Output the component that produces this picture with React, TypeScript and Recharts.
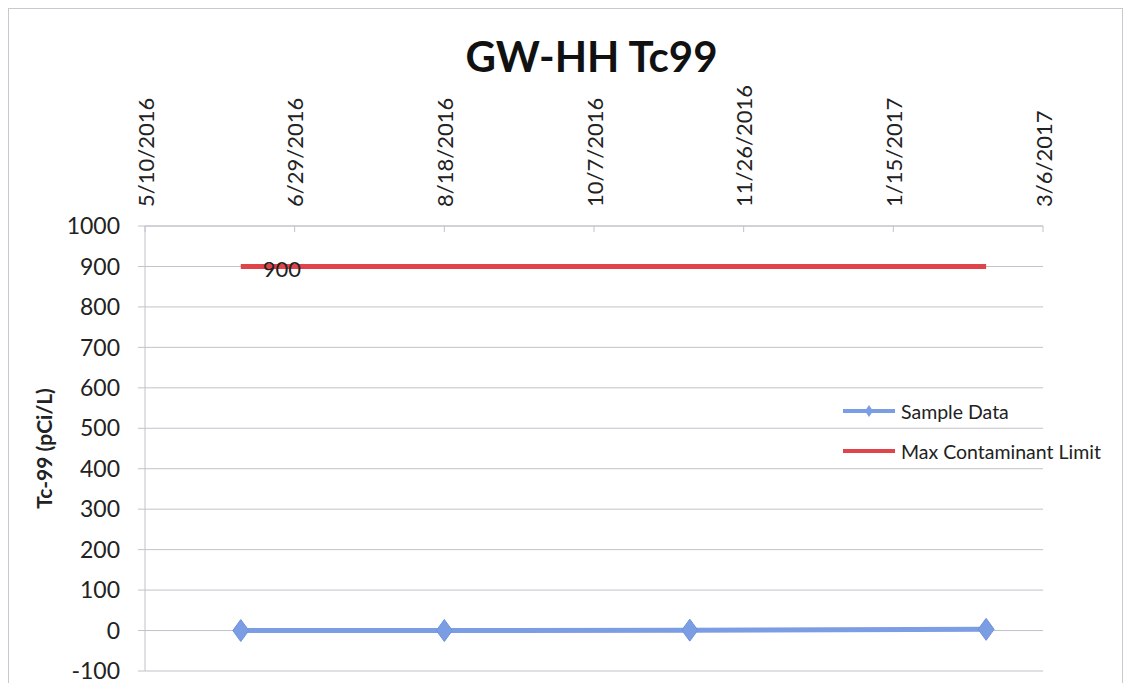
import { LineChart, Line, XAxis, YAxis, CartesianGrid } from 'recharts';

const sampleDates = ['6/11/2016', '8/18/2016', '11/8/2016', '2/15/2017'];
const sampleValues = [0, 0, 1, 3];
const limitValues = [900, 900, 900, 900];
const dateTicks = ['5/10/2016', '6/29/2016', '8/18/2016', '10/7/2016', '11/26/2016', '1/15/2017', '3/6/2017'];
const valueTicks = [-100, 0, 100, 200, 300, 400, 500, 600, 700, 800, 900, 1000];

const FONT = 'Lato, "Open Sans", sans-serif';
const BLUE = '#7b9de3';
const RED = '#e0434a';
const GRID = '#c2c2ca';

const toTime = (s: string) => {
  const [m, d, y] = s.split('/').map(Number);
  return Date.UTC(y, m - 1, d);
};
const fmtDate = (t: number) => {
  const d = new Date(t);
  return `${d.getUTCMonth() + 1}/${d.getUTCDate()}/${d.getUTCFullYear()}`;
};

const data = sampleDates.map((d, i) => ({
  t: toTime(d),
  sample: sampleValues[i],
  limit: limitValues[i],
}));
const xTicks = dateTicks.map(toTime);

const DateTick = (props: any) => {
  const { x, y, payload } = props;
  const ty = y - 19;
  return (
    <g>
      <line x1={x} y1={y} x2={x} y2={y + 6} stroke={GRID} />
      <text
        x={x}
        y={ty}
        transform={`rotate(-90, ${x}, ${ty})`}
        textAnchor="start"
        dominantBaseline="central"
        fontSize={22}
        fontFamily={FONT}
        fill="#222"
      >
        {fmtDate(payload.value)}
      </text>
    </g>
  );
};

const Diamond = (props: any) => {
  const { cx, cy } = props;
  if (cx == null || cy == null) return null;
  return (
    <polygon
      points={`${cx},${cy - 11} ${cx + 8},${cy} ${cx},${cy + 11} ${cx - 8},${cy}`}
      fill={BLUE}
      stroke="#6f92dc"
      strokeWidth={1}
    />
  );
};

const FirstLabel = (props: any) => {
  const { x, y, index, value } = props;
  if (index !== 0) return null;
  return (
    <text x={x + 22} y={y + 2} dominantBaseline="central" fontSize={22} fontFamily={FONT} fill="#222">
      {value}
    </text>
  );
};

const LegendBox = () => (
  <div
    style={{
      position: 'absolute',
      left: 832,
      top: 382,
      fontFamily: FONT,
      fontSize: 19.5,
      color: '#222',
    }}
  >
    <div style={{ display: 'flex', alignItems: 'center', height: 40 }}>
      <svg width={56} height={14} style={{ marginRight: 4 }}>
        <line x1={2} y1={7} x2={54} y2={7} stroke={BLUE} strokeWidth={4} />
        <polygon points="28,1 32,7 28,13 24,7" fill={BLUE} />
      </svg>
      <span>Sample Data</span>
    </div>
    <div style={{ display: 'flex', alignItems: 'center', height: 40 }}>
      <svg width={56} height={14} style={{ marginRight: 4 }}>
        <line x1={2} y1={7} x2={54} y2={7} stroke={RED} strokeWidth={4} />
      </svg>
      <span>Max Contaminant Limit</span>
    </div>
  </div>
);

export default function App() {
  return (
    <div
      style={{
        position: 'relative',
        width: 1115,
        height: 675,
        background: '#fff',
        borderTop: '1px solid #c8c8d0',
        borderLeft: '1px solid #c8c8d0',
        borderRight: '1px solid #c8c8d0',
        boxSizing: 'border-box',
      }}
    >
      <div
        style={{
          position: 'absolute',
          left: 0,
          width: 1165,
          top: 22,
          textAlign: 'center',
          fontFamily: FONT,
          fontWeight: 700,
          fontSize: 42,
          color: '#111',
          zIndex: 2,
        }}
      >
        GW-HH Tc99
      </div>
      <LegendBox />
      <div style={{ position: 'absolute', left: -1, top: -1 }}>
        <LineChart width={1115} height={675} data={data} margin={{ top: 0, right: 80, bottom: 12, left: 0 }}>
          <CartesianGrid vertical={false} stroke={GRID} />
          <XAxis
            dataKey="t"
            type="number"
            orientation="top"
            domain={[xTicks[0], xTicks[xTicks.length - 1]]}
            ticks={xTicks}
            interval={0}
            height={218}
            tickSize={0}
            tickMargin={0}
            tickLine={false}
            axisLine={{ stroke: GRID }}
            tick={<DateTick />}
          />
          <YAxis
            domain={[-100, 1000]}
            ticks={valueTicks}
            interval={0}
            width={137}
            tickSize={7}
            tickMargin={18}
            axisLine={{ stroke: GRID }}
            tickLine={{ stroke: GRID }}
            tick={{ fontSize: 23, fontFamily: FONT, fill: '#222' }}
            label={{
              value: 'Tc-99 (pCi/L)',
              angle: -90,
              position: 'insideLeft',
              offset: 37,
              style: { textAnchor: 'middle', fontSize: 21, fontWeight: 700, fontFamily: FONT, fill: '#222' },
            }}
          />
          <Line
            dataKey="limit"
            name="Max Contaminant Limit"
            stroke={RED}
            strokeWidth={5}
            dot={false}
            isAnimationActive={false}
            label={<FirstLabel />}
          />
          <Line
            dataKey="sample"
            name="Sample Data"
            stroke={BLUE}
            strokeWidth={5}
            dot={<Diamond />}
            isAnimationActive={false}
          />
        </LineChart>
      </div>
    </div>
  );
}
